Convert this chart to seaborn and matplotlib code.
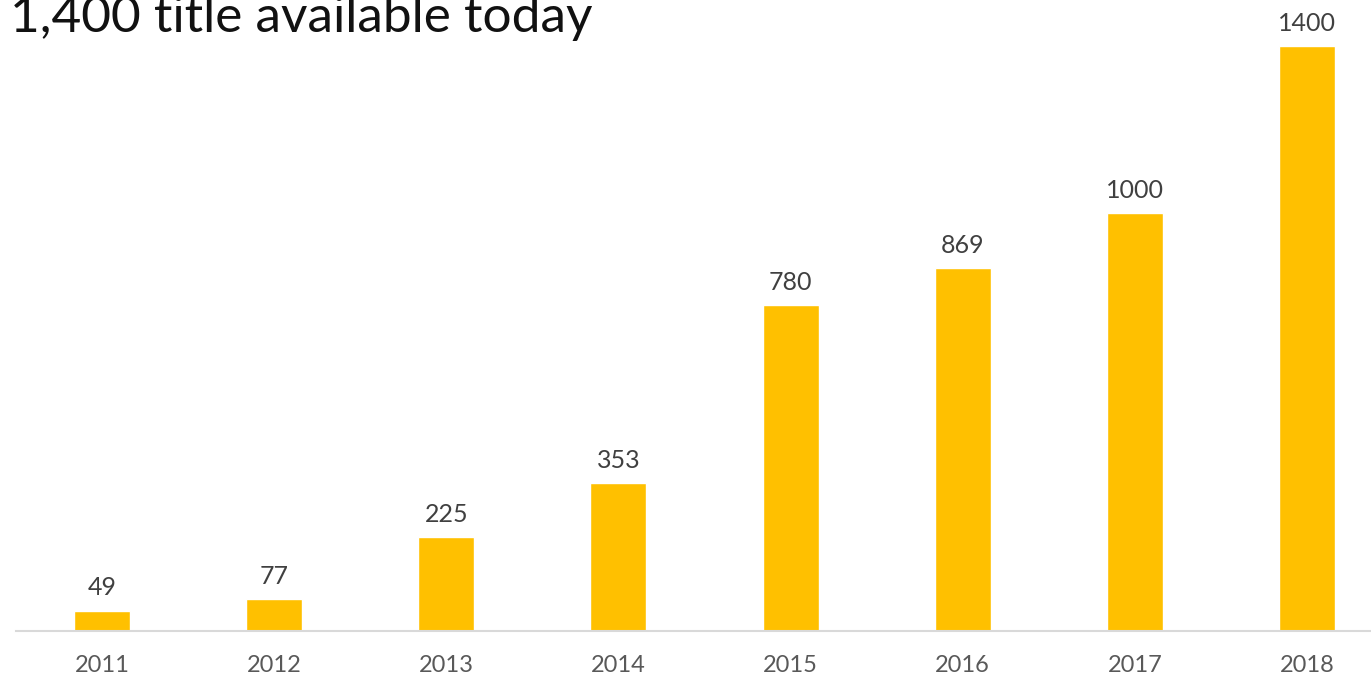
import numpy as np
import pandas as pd
import matplotlib.pyplot as plt
import seaborn as sns

years = ['2011', '2012', '2013', '2014', '2015', '2016', '2017', '2018']
titles = [49, 77, 225, 353, 780, 869, 1000, 1400]

sns.set_style('white')
plt.rcParams['font.family'] = ['Lato', 'DejaVu Sans']

fig = plt.figure(figsize=(13.71, 6.74), dpi=100)
# axes run past the right edge, the original picture is cropped there
ax = fig.add_axes([16/1371, 43/674, 1377/1371, 627/674])

df = pd.DataFrame({'year': years, 'titles': titles})
sns.barplot(data=df, x='year', y='titles', color='#FFC000', saturation=1, width=0.325, ax=ax)

ax.bar_label(ax.containers[0], labels=[str(v) for v in titles], padding=8,
             fontsize=18, color='#404040')

ax.set_xlim(-0.5, 7.5)
ax.set_ylim(0, 1500)
ax.set_xlabel('')
ax.set_ylabel('')
ax.set_yticks([])
ax.tick_params(axis='x', length=0, labelsize=17, labelcolor='#595959', pad=17)
sns.despine(ax=ax, left=True, right=True, top=True)
ax.spines['bottom'].set_color('#D9D9D9')
ax.spines['bottom'].set_linewidth(1.5)

fig.text(0.007, 642/674, '1,400 title available today', fontsize=37,
         color='#111111', va='baseline', ha='left')

fig.savefig('out.png', dpi=100)
